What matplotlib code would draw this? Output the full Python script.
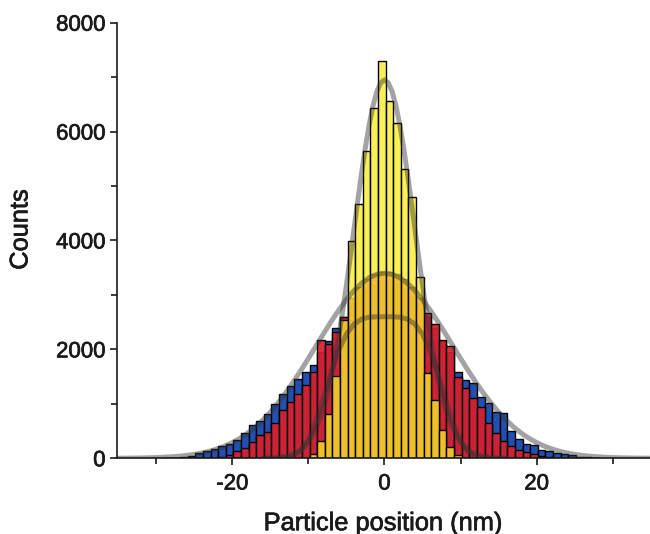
import numpy as np
import matplotlib
matplotlib.use("Agg")
import matplotlib.pyplot as plt
import matplotlib.patheffects as pe
from matplotlib.ticker import MultipleLocator

plt.rcParams['font.family'] = ['Liberation Sans', 'DejaVu Sans']

# ---------------- data ----------------
bin_centers = [-28.35, -27.35, -26.35, -25.35, -24.35, -23.35, -22.35, -21.35, -20.35,
               -19.35, -18.35, -17.35, -16.35, -15.35, -14.35, -13.35, -12.35, -11.35,
               -10.35, -9.35, -8.35, -7.35, -6.35, -5.35, -4.35, -3.35, -2.35, -1.35,
               -0.35, 0.65, 1.65, 2.65, 3.65, 4.65, 5.65, 6.65, 7.65, 8.65, 9.65,
               10.65, 11.65, 12.65, 13.65, 14.65, 15.65, 16.65, 17.65, 18.65, 19.65,
               20.65, 21.65, 22.65, 23.65, 24.65, 25.65, 26.65, 27.65]

counts_blue = [5, 10, 20, 45, 95, 135, 170, 225, 260,
               340, 470, 610, 680, 820, 1000, 1180, 1320, 1450,
               1580, 1720, 1950, 2150, 2400, 2600, 2850, 3000, 3100, 3200,
               3250, 3250, 3200, 3100, 3000, 2850, 2600, 2400, 2150, 1950, 1592,
               1439, 1378, 1133, 1010, 857, 827, 500, 361, 269, 240,
               147, 130, 100, 75, 55, 30, 15, 8]

counts_red = [0, 0, 0, 0, 0, 5, 10, 30, 55,
              125, 190, 290, 430, 490, 650, 890, 1030, 1180,
              1347, 1590, 2174, 2105, 2326, 2590, 2950, 3150, 3300, 3380,
              3420, 3420, 3380, 3300, 3150, 2950, 2664, 2468, 2174, 2064, 1500,
              1286, 1102, 949, 643, 472, 325, 230, 160, 110, 70,
              40, 20, 10, 5, 0, 0, 0, 0]

counts_yellow = [0, 0, 0, 0, 0, 0, 0, 0, 0,
                 0, 0, 0, 0, 0, 0, 0, 0, 0,
                 0, 80, 325, 814, 1512, 2541, 3992, 4672, 5645, 6429,
                 7304, 6570, 6165, 5309, 4795, 3336, 1561, 1072, 520, 214, 61,
                 0, 0, 0, 0, 0, 0, 0, 0, 0, 0,
                 0, 0, 0, 0, 0, 0, 0, 0]

# fitted curves
fit_wide_x = list(range(-35, 36))
fit_wide_y = [1, 2, 4, 6, 9, 13, 19, 27, 38, 52, 72, 97, 130, 171, 223, 288, 366, 460,
              571, 700, 848, 1014, 1198, 1398, 1611, 1834, 2062, 2291, 2513, 2722, 2914,
              3080, 3216, 3317, 3379, 3400, 3379, 3317, 3216, 3080, 2914, 2722, 2513,
              2291, 2062, 1834, 1611, 1398, 1198, 1014, 848, 700, 571, 460, 366, 288,
              223, 171, 130, 97, 72, 52, 38, 27, 19, 13, 9, 6, 4, 2, 1]

fit_mid_x = list(range(-16, 17))
fit_mid_y = [0, 0, 2, 10, 45, 140, 340, 680, 1120, 1580, 1985, 2280, 2464, 2556, 2591,
             2599, 2600, 2599, 2591, 2556, 2464, 2279, 1979, 1568, 1100, 653, 316, 119,
             33, 6, 1, 0, 0]

fit_narrow_x = [-16.0, -15.5, -15.0, -14.5, -14.0, -13.5, -13.0, -12.5, -12.0, -11.5,
                -11.0, -10.5, -10.0, -9.5, -9.0, -8.5, -8.0, -7.5, -7.0, -6.5, -6.0,
                -5.5, -5.0, -4.5, -4.0, -3.5, -3.0, -2.5, -2.0, -1.5, -1.0, -0.5, 0.0,
                0.5, 1.0, 1.5, 2.0, 2.5, 3.0, 3.5, 4.0, 4.5, 5.0, 5.5, 6.0, 6.5, 7.0,
                7.5, 8.0, 8.5, 9.0, 9.5, 10.0, 10.5, 11.0, 11.5, 12.0, 12.5, 13.0, 13.5,
                14.0, 14.5, 15.0, 15.5, 16.0]
fit_narrow_y = [2, 4, 6, 10, 15, 23, 35, 53, 77, 111, 158, 222, 305, 414, 553, 727, 941,
                1198, 1503, 1856, 2257, 2701, 3182, 3691, 4215, 4740, 5247, 5717, 6133,
                6478, 6736, 6896, 6950, 6896, 6736, 6478, 6133, 5717, 5247, 4740, 4215,
                3691, 3182, 2701, 2257, 1856, 1503, 1198, 941, 727, 553, 414, 305, 222,
                158, 111, 77, 53, 35, 23, 15, 10, 6, 4, 2]

x_ticks = [-20, 0, 20]
y_ticks = [0, 2000, 4000, 6000, 8000]

# ---------------- figure ----------------
fig = plt.figure(figsize=(6.5, 5.34), dpi=100)
ax = fig.add_axes([0.1795, 0.1418, 0.8205, 0.8157])

edge_kw = dict(edgecolor='black', linewidth=1.0, width=1.0)
ax.bar(bin_centers, counts_blue, color='#2350b0', zorder=1, **edge_kw)
ax.bar(bin_centers, counts_red, color=(0.85, 0.12, 0.17, 0.92), zorder=2, **edge_kw)
ax.bar(bin_centers, counts_yellow, color=(0.98, 0.92, 0.16, 0.78), zorder=3, **edge_kw)

line_kw = dict(color='#333333', alpha=0.45, linewidth=3.6, solid_capstyle='round',
               solid_joinstyle='round', zorder=4)
ax.plot(fit_wide_x, fit_wide_y, **line_kw)
ax.plot(fit_mid_x, fit_mid_y, **line_kw)
ax.plot(fit_narrow_x, fit_narrow_y, **line_kw)

ax.set_xlim(-35.2, 34.9)
ax.set_ylim(0, 8000)
ax.set_xticks(x_ticks)
ax.set_xticklabels([str(t) for t in x_ticks])
ax.set_yticks(y_ticks)
ax.xaxis.set_minor_locator(MultipleLocator(10))
ax.yaxis.set_minor_locator(MultipleLocator(1000))

for s in ['top', 'right']:
    ax.spines[s].set_visible(False)
for s in ['left', 'bottom']:
    ax.spines[s].set_linewidth(1.2)
    ax.spines[s].set_color('#1a1a1a')
    ax.spines[s].set_zorder(6)

ax.tick_params(axis='both', which='major', direction='out', length=5, width=1.2,
               labelsize=16, colors='#1a1a1a')
ax.tick_params(axis='both', which='minor', direction='out', length=4, width=1.2,
               colors='#1a1a1a')
ax.tick_params(axis='x', which='major', pad=6)
ax.tick_params(axis='y', which='major', pad=3)

thick = [pe.withStroke(linewidth=0.5, foreground='#1a1a1a')]
for lab in ax.get_xticklabels() + ax.get_yticklabels():
    lab.set_path_effects(thick)

ax.set_xlabel('Particle position (nm)', fontsize=18.3, color='#1a1a1a', labelpad=12,
              path_effects=thick)
ax.set_ylabel('Counts', fontsize=18.3, color='#1a1a1a', path_effects=thick)
ax.yaxis.set_label_coords(-0.158, 0.525)

fig.savefig('out.png', dpi=100)
